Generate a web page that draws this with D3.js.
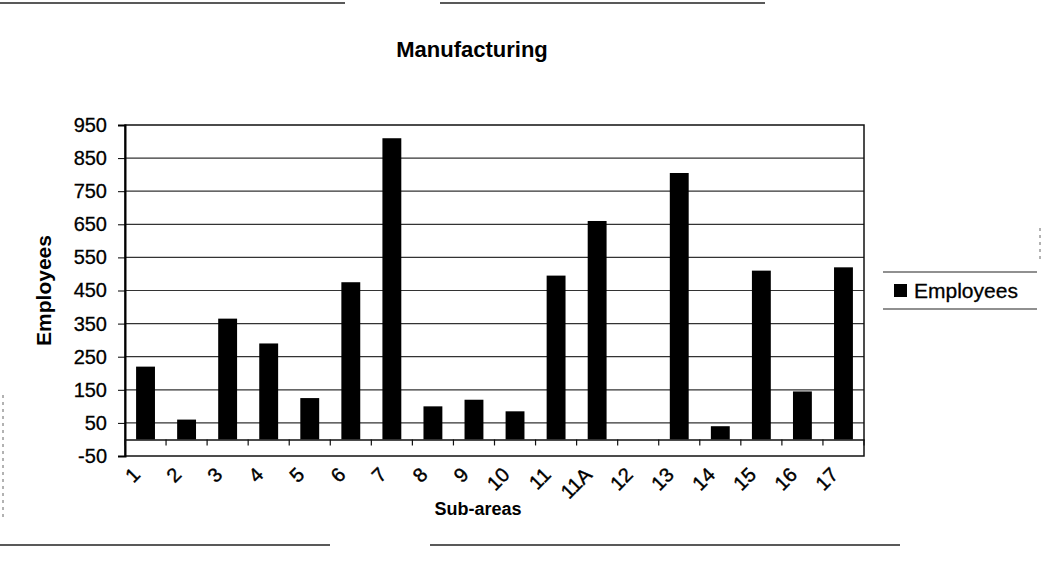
<!DOCTYPE html>
<html lang="en">
<head>
  <meta charset="UTF-8">
  <title>Manufacturing</title>
  <script src="https://d3js.org/d3.v7.min.js"></script>
  <style>
    body { margin: 0; background: #fff; font-family: 'Liberation Sans', Arial, sans-serif; }
    text { fill: #000; }
  </style>
</head>
<body>
  <div id="chart"></div>

  <script>
    // data
    const subAreas = ["1", "2", "3", "4", "5", "6", "7", "8", "9", "10", "11", "11A", "12", "13", "14", "15", "16", "17"];
    const employees = [220, 60, 365, 290, 125, 475, 910, 100, 120, 85, 495, 660, 0, 805, 40, 510, 145, 520];
    const yTicks = [-50, 50, 150, 250, 350, 450, 550, 650, 750, 850, 950];

    const W = 1045, H = 570;
    const plot = { left: 125, right: 864, top: 125, bottom: 456 };

    const svg = d3.select("#chart")
      .append("svg")
      .attr("width", W)
      .attr("height", H);

    const x = d3.scaleBand()
      .domain(subAreas)
      .range([plot.left, plot.right])
      .padding(0);

    const y = d3.scaleLinear()
      .domain([-50, 950])
      .range([plot.bottom, plot.top]);

    const data = subAreas.map((c, i) => ({ area: c, value: employees[i] }));

    // scan edges
    svg.append("g")
      .attr("stroke", "#222")
      .attr("stroke-width", 1.5)
      .selectAll("line")
      .data([[0, 3, 345, 3], [440, 3, 765, 3], [0, 545, 330, 545], [430, 545, 900, 545]])
      .enter().append("line")
      .attr("x1", d => d[0]).attr("y1", d => d[1])
      .attr("x2", d => d[2]).attr("y2", d => d[3]);

    svg.append("g")
      .attr("stroke", "#666")
      .attr("stroke-dasharray", "3,4")
      .selectAll("line")
      .data([[3, 395, 3, 520], [1040, 228, 1040, 262]])
      .enter().append("line")
      .attr("x1", d => d[0]).attr("y1", d => d[1])
      .attr("x2", d => d[2]).attr("y2", d => d[3]);

    // gridlines
    svg.append("g")
      .selectAll("line")
      .data(yTicks.slice(1, -1))
      .enter().append("line")
      .attr("x1", plot.left)
      .attr("x2", plot.right)
      .attr("y1", d => y(d))
      .attr("y2", d => y(d))
      .attr("stroke", "#333")
      .attr("stroke-width", 1.2);

    // plot frame
    svg.append("rect")
      .attr("x", plot.left)
      .attr("y", plot.top)
      .attr("width", plot.right - plot.left)
      .attr("height", plot.bottom - plot.top)
      .attr("fill", "none")
      .attr("stroke", "#111")
      .attr("stroke-width", 1.5);

    // bars
    const barW = x.bandwidth() * 0.46;
    svg.append("g")
      .selectAll("rect")
      .data(data.filter(d => d.value !== 0))
      .enter().append("rect")
      .attr("x", d => x(d.area) + (x.bandwidth() - barW) / 2)
      .attr("y", d => y(d.value))
      .attr("width", barW)
      .attr("height", d => y(0) - y(d.value))
      .attr("fill", "#000");

    // y axis
    const yAxis = svg.append("g")
      .attr("transform", `translate(${plot.left},0)`)
      .call(d3.axisLeft(y).tickValues(yTicks).tickFormat(d => String(d)).tickSize(7).tickPadding(11));
    yAxis.select(".domain").attr("stroke-width", 2);
    yAxis.selectAll("text")
      .style("font-family", "'Liberation Sans', Arial, sans-serif")
      .style("font-size", "20px")
      .attr("stroke", "#000")
      .attr("stroke-width", 0.3)
      .attr("fill", "#000");

    // category axis crosses at 0
    const xAxis = svg.append("g")
      .attr("transform", `translate(0,${y(0)})`)
      .call(d3.axisBottom(x).tickSize(0).tickFormat(""));
    xAxis.select(".domain").attr("stroke-width", 1.5).attr("stroke", "#111");
    xAxis.selectAll(".tick").remove();

    svg.append("g")
      .selectAll("line")
      .data(subAreas.concat(["end"]))
      .enter().append("line")
      .attr("x1", (d, i) => plot.left + i * x.step())
      .attr("x2", (d, i) => plot.left + i * x.step())
      .attr("y1", y(0))
      .attr("y2", y(0) + 6)
      .attr("stroke", "#111")
      .attr("stroke-width", 1.2);

    // category labels, slanted
    svg.append("g")
      .selectAll("text")
      .data(subAreas)
      .enter().append("text")
      .attr("transform", d => `translate(${x(d) + x.bandwidth() / 2 - 9},${plot.bottom + 15}) rotate(-45)`)
      .attr("text-anchor", "end")
      .attr("dy", "0.35em")
      .attr("stroke", "#000")
      .attr("stroke-width", 0.4)
      .style("font-size", "20px")
      .text(d => d);

    // title
    svg.append("text")
      .attr("x", 472)
      .attr("y", 57)
      .attr("text-anchor", "middle")
      .style("font-size", "22px")
      .style("font-weight", "bold")
      .text("Manufacturing");

    // axis titles
    svg.append("text")
      .attr("x", 478)
      .attr("y", 515)
      .attr("text-anchor", "middle")
      .style("font-size", "18px")
      .style("font-weight", "bold")
      .text("Sub-areas");

    svg.append("text")
      .attr("transform", `translate(51,${(plot.top + plot.bottom) / 2}) rotate(-90)`)
      .attr("text-anchor", "middle")
      .style("font-size", "21px")
      .style("font-weight", "bold")
      .text("Employees");

    // legend
    const legend = svg.append("g");
    legend.append("line")
      .attr("x1", 883).attr("x2", 1037).attr("y1", 272).attr("y2", 272)
      .attr("stroke", "#222").attr("stroke-width", 1.2);
    legend.append("line")
      .attr("x1", 883).attr("x2", 1037).attr("y1", 309).attr("y2", 309)
      .attr("stroke", "#222").attr("stroke-width", 1.2);
    legend.append("rect")
      .attr("x", 894).attr("y", 284)
      .attr("width", 13).attr("height", 13)
      .attr("fill", "#000");
    legend.append("text")
      .attr("x", 914).attr("y", 298)
      .attr("stroke", "#000")
      .attr("stroke-width", 0.3)
      .style("font-size", "21px")
      .text("Employees");
  </script>
</body>
</html>
